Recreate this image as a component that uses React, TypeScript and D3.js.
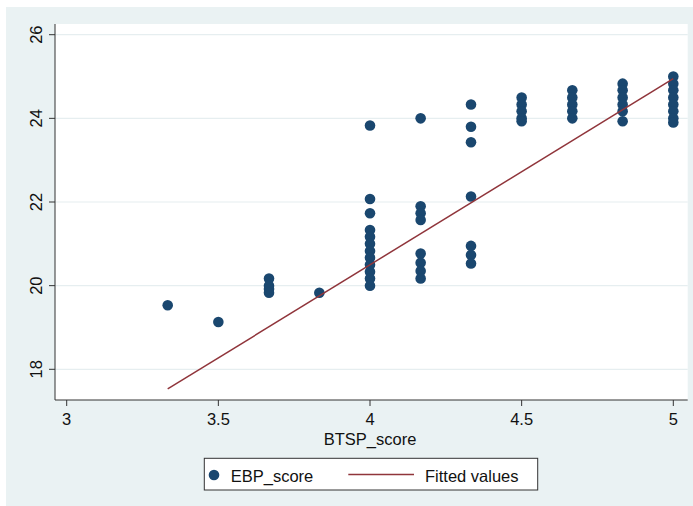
import React from "react";
import * as d3 from "d3";

const xTicks = [3, 3.5, 4, 4.5, 5];
const yTicks = [18, 20, 22, 24, 26];

const btspScore = [
  3.333,
  3.5,
  3.667, 3.667, 3.667, 3.667,
  3.833,
  4, 4, 4, 4, 4, 4, 4, 4, 4, 4, 4, 4,
  4.167, 4.167, 4.167, 4.167, 4.167, 4.167, 4.167, 4.167,
  4.333, 4.333, 4.333, 4.333, 4.333, 4.333, 4.333,
  4.5, 4.5, 4.5, 4.5, 4.5,
  4.667, 4.667, 4.667, 4.667, 4.667,
  4.833, 4.833, 4.833, 4.833, 4.833, 4.833,
  5, 5, 5, 5, 5, 5, 5, 5,
];
const ebpScore = [
  19.53,
  19.13,
  20.17, 20.0, 19.92, 19.83,
  19.83,
  23.83, 22.07, 21.73, 21.33, 21.17, 21.0, 20.83, 20.67, 20.5, 20.33, 20.17, 20.0,
  24.0, 21.9, 21.73, 21.57, 20.77, 20.55, 20.35, 20.17,
  24.33, 23.8, 23.43, 22.13, 20.95, 20.73, 20.53,
  24.5, 24.33, 24.17, 24.0, 23.93,
  24.67, 24.5, 24.33, 24.17, 24.0,
  24.83, 24.67, 24.5, 24.33, 24.17, 23.93,
  25.0, 24.83, 24.67, 24.5, 24.33, 24.17, 24.0, 23.9,
];
const fitX = [3.333, 5];
const fitY = [17.53, 24.95];

const W = 693;
const H = 506;
const FONT = "'Liberation Sans', Arial, Helvetica, sans-serif";
const NAVY = "#1a476f";
const MAROON = "#90353b";

export default function App() {
  const plot = { left: 55, right: 687.7, top: 24, bottom: 400 };
  const x = d3.scaleLinear().domain([3, 5]).range([66.7, 673.3]);
  const y = d3.scaleLinear().domain([18, 26]).range([369.3, 34.7]);
  const line = d3
    .line<number>()
    .x((d) => x(d))
    .y((_, i) => y(fitY[i]));

  return (
    <svg
      width={W}
      height={H}
      style={{ position: "absolute", left: 0, top: 0 }}
      fontFamily={FONT}
    >
      <rect x={0} y={0} width={W} height={H} fill="#ffffff" />
      <rect x={6} y={7} width={W - 6} height={H - 7} fill="#eaf2f3" />
      <rect
        x={plot.left}
        y={plot.top}
        width={plot.right - plot.left}
        height={plot.bottom - plot.top}
        fill="#ffffff"
      />
      {yTicks.map((t) => (
        <line
          key={"g" + t}
          x1={plot.left}
          x2={plot.right}
          y1={y(t)}
          y2={y(t)}
          stroke="#e6eef0"
          strokeWidth={1.2}
        />
      ))}
      {btspScore.map((v, i) => (
        <circle key={i} cx={x(v)} cy={y(ebpScore[i])} r={5.3} fill={NAVY} />
      ))}
      <path
        d={line(fitX) || ""}
        fill="none"
        stroke={MAROON}
        strokeWidth={1.5}
      />
      <line x1={plot.left} x2={plot.left} y1={plot.top} y2={plot.bottom} stroke="#333" strokeWidth={1} />
      <line x1={plot.left} x2={plot.right} y1={plot.bottom} y2={plot.bottom} stroke="#333" strokeWidth={1} />
      {yTicks.map((t) => (
        <g key={"y" + t}>
          <line x1={plot.left - 6} x2={plot.left} y1={y(t)} y2={y(t)} stroke="#333" strokeWidth={1} />
          <text
            transform={`translate(42,${y(t)}) rotate(-90)`}
            textAnchor="middle"
            fontSize={16.5}
            fill="#111"
          >
            {t}
          </text>
        </g>
      ))}
      {xTicks.map((t) => (
        <g key={"x" + t}>
          <line x1={x(t)} x2={x(t)} y1={plot.bottom} y2={plot.bottom + 6} stroke="#333" strokeWidth={1} />
          <text x={x(t)} y={425} textAnchor="middle" fontSize={16.5} fill="#111">
            {t}
          </text>
        </g>
      ))}
      <text x={370} y={445} textAnchor="middle" fontSize={16.5} fill="#111">
        BTSP_score
      </text>
      <rect x={204.3} y={458.3} width={333.4} height={31.7} fill="#ffffff" stroke="#333" strokeWidth={1} />
      <circle cx={214} cy={475} r={5.3} fill={NAVY} />
      <text x={230.7} y={481.5} fontSize={16.5} fill="#111">
        EBP_score
      </text>
      <line x1={348.3} x2={414} y1={474.5} y2={474.5} stroke={MAROON} strokeWidth={1.5} />
      <text x={425} y={481.5} fontSize={16.5} fill="#111">
        Fitted values
      </text>
    </svg>
  );
}
